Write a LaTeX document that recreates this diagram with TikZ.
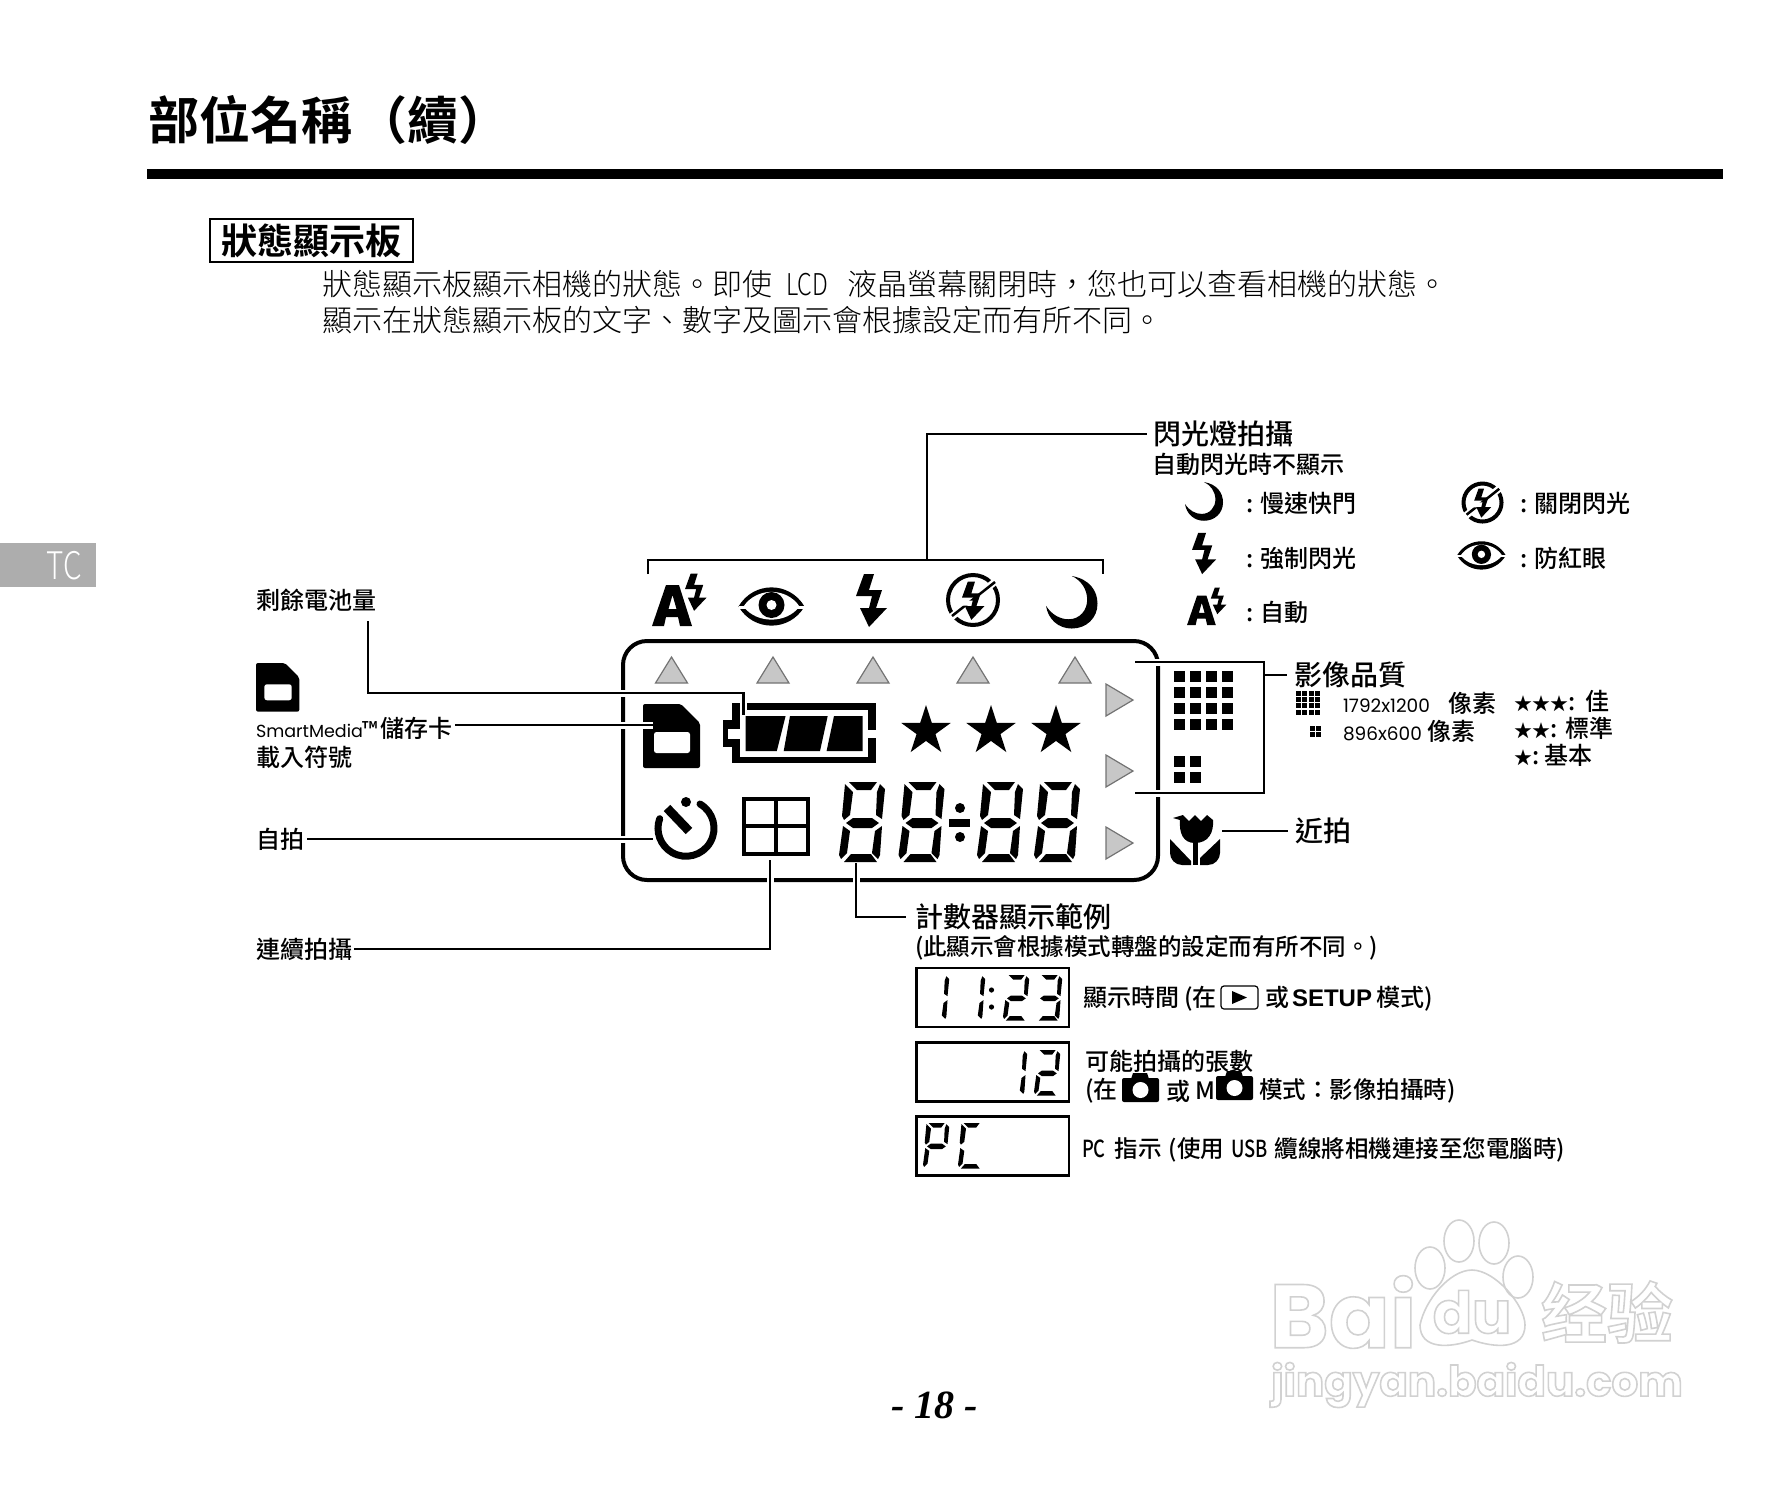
\documentclass[tikz,border=0pt]{standalone}
\usepackage{fontspec}
\usepackage{graphicx}
\usetikzlibrary{arrows.meta,positioning,calc,shapes.geometric}
\setmainfont{Noto Sans CJK TC Medium}[BoldFont={Noto Sans CJK TC Bold}]
\newfontfamily\lightcjk{Noto Sans CJK TC Light}
\newfontfamily\simpcjk{Noto Sans CJK SC Bold}
\newfontfamily\roundlat{Poppins}
\newfontfamily\boldlat{Liberation Sans Bold}
\newfontfamily\pagenum{Liberation Serif Bold Italic}
\newfontfamily\wmfont{Poppins Bold}
\newcommand{\fs}[1]{\fontsize{#1}{#1}\selectfont}
\newcommand{\nar}[1]{\scalebox{.78}[1]{#1}}
\newcommand{\ghost}[1]{\special{pdf: code q 1 Tr 0.82 G 1.6 w}#1\special{pdf: code Q}}
\newcommand{\lcddigit}[4]{%
	\foreach \sg in {#4} {\pic[scale=#3] at (#1,#2) {seg\sg};}}

\tikzset{
	sega/.pic={\fill (10,0)--(38,0)--(32,8)--(18,8)--cycle;},
	segb/.pic={\fill (41,2)--(46,7)--(43,37)--(37,33)--(38,10)--cycle;},
	segc/.pic={\fill (43,44)--(41,73)--(39,77)--(33,71)--(36,49)--cycle;},
	segd/.pic={\fill (5,80)--(12,72)--(32,72)--(38,80)--cycle;},
	sege/.pic={\fill (4,44)--(11,49)--(8,71)--(2,77)--(0,73)--cycle;},
	segf/.pic={\fill (6,2)--(14,10)--(11,33)--(5,38)--(3,34)--cycle;},
	segg/.pic={\fill (7,41)--(14,36)--(33,36)--(40,41)--(33,46)--(14,46)--cycle;},
	boltmark/.pic={\fill (8,1)--(18,1)--(13,17)--(26,17)--(20,35)--(31,35)--(13,54)--(4,35)--(13,35)--(16,23)--(0,23)--cycle;},
	moonmark/.pic={\fill (25,0) .. controls (42,3) and (50,14) .. (50,27) .. controls (50,41) and (39,51) .. (25,51)
		.. controls (12,51) and (2,42) .. (0,29) .. controls (6,38) and (14,42) .. (22,42)
		.. controls (33,42) and (40,33) .. (40,23) .. controls (40,13) and (34,4) .. (25,0) -- cycle;},
	autoflash/.pic={
		\fill[even odd rule] (0,53)--(14,12)--(27,12)--(40,53)--(28,53)--(26,44)--(14,44)--(12,53)--cycle
			(20.5,22)--(16.5,36)--(24.5,36)--cycle;
		\pic[transform shape,scale=.7] at (33,0) {boltmark};
	},
	eyemark/.pic={
		\fill (0,19.5) .. controls (15,-6) and (51,-6) .. (66,19.5) .. controls (51,45) and (15,45) .. (0,19.5) -- cycle;
		\fill[white] (5,19.5) .. controls (18,0) and (48,0) .. (61,19.5) .. controls (48,37) and (18,37) .. (5,19.5) -- cycle;
		\fill (33,18) circle (13);
		\fill[white] (33,18) circle (5);
		\fill[white] (0,19) rectangle (8,22);
		\fill[white] (58,19) rectangle (66,22);
	},
	noflash/.pic={
		\draw[line width=4pt] (27,27) circle (25);
		\draw[white,line width=7pt] (3,46) -- (51,7);
		\draw[line width=2.5pt] (6,43) -- (49,9);
		\draw[white,line width=5pt] (22,10) -- (18,30) -- (27,30) -- (27,44);
		\pic[transform shape,scale=.72] at (16,8) {boltmark};
	},
	cardmark/.pic={
		\fill[rounded corners=2pt] (0,0) -- (38,0) -- (57,19) -- (57,64) -- (0,64) -- cycle;
		\fill[white,rounded corners=2.5pt] (11,28) rectangle (47,49);
	},
	tulipmark/.pic={
		\fill (3,3) -- (13,0) -- (19,6) -- (25,0) -- (31,6) -- (37,0) -- (43,5)
			.. controls (44,18) and (38,28) .. (25,28) .. controls (13,28) and (9,18) .. (10,5) -- cycle;
		\fill (23,25) rectangle (28,50);
		\fill (0,24) -- (21,46) -- (21,50) -- (12,50) .. controls (5,50) and (0,44) .. (0,38) -- cycle;
		\fill (50,24) -- (30,43) -- (30,50) -- (38,50) .. controls (45,50) and (50,44) .. (50,38) -- cycle;
	},
	cammark/.pic={
		\fill (9,6) -- (11,0) -- (25,0) -- (27,6) -- cycle;
		\fill[rounded corners=2pt] (0,5) rectangle (37,29);
		\fill[white] (18.5,17) circle (8);
	},
}

\begin{document}
\begin{tikzpicture}[
		x=1pt,y=-1pt,
		txt/.style={anchor=west, inner sep=0pt, outer sep=0pt, align=left},
		lbl/.style={txt, font=\fs{24}},
		big/.style={txt, font=\fs{28}},
		line/.style={draw, line width=2.4pt},
		halo/.style={line, preaction={draw=white, line width=7pt}},
		lcdbox/.style={draw, line width=2.4pt, minimum width=152.5pt, minimum height=59pt, inner sep=0pt},
		trimark/.style={fill=black!22, draw=black!55, line width=1.2pt},
		starmark/.style={star, star points=5, star point ratio=2.618, fill, minimum size=52pt, inner sep=0pt, outer sep=0pt},
		wm/.style={inner sep=0pt, anchor=center}
		]
		\useasboundingbox (0,0) rectangle (1792,1484);
		
		% -------------------------
		% Heading
		% -------------------------
		\node[txt, font=\fs{51}\bfseries] (Title) at (148,120) {部位名稱\hspace{5pt}（續）};
		\fill (147,169) rectangle (1723,179);
		\node[txt, draw, line width=1.6pt, font=\fs{36}\bfseries, minimum width=203pt, minimum height=43pt, align=center] (Sub) at (210,240.5) {狀態顯示板};
		\node[txt, font=\fs{30}\lightcjk] (Body1) at (322,284) {狀態顯示板顯示相機的狀態。即使\hspace{14pt}\nar{LCD}\hspace{19pt}液晶螢幕關閉時，您也可以查看相機的狀態。};
		\node[txt, font=\fs{30}\lightcjk] (Body2) at (322,320) {顯示在狀態顯示板的文字、數字及圖示會根據設定而有所不同。};
		\fill[black!32] (0,543) rectangle (96,587);
		\node[font=\fs{38}\lightcjk, text=white, inner sep=0pt] (Tab) at (64,566) {\nar{TC}};
		
		% -------------------------
		% Display panel
		% -------------------------
		\draw[line width=4pt, rounded corners=24pt] (623,641) rectangle (1158,880);
		\foreach \tx in {671.5,773,873,973,1075} {
			\draw[trimark] (\tx-16,683) -- (\tx,657) -- (\tx+16,683) -- cycle;
		}
		\foreach \ty in {684,755,827} {
			\draw[trimark] (1106,\ty) -- (1133,\ty+16) -- (1106,\ty+32) -- cycle;
		}
		\pic at (643,704) {cardmark};
		
		% battery
		\fill (732,703) rectangle (875.5,763);
		\fill (722.5,720) rectangle (734,747);
		\fill[white] (740,710) rectangle (868,757);
		\fill[white] (728,729) rectangle (741,739);
		\fill[white] (867,730) rectangle (876,738);
		\fill (745.5,716) -- (785.6,716) -- (776.8,751) -- (745.5,751) -- cycle;
		\fill (790,716) -- (827.7,716) -- (820,751) -- (783.7,751) -- cycle;
		\fill (834,716) -- (862.5,716) -- (862.5,751) -- (826.6,751) -- cycle;
		
		\node[starmark] (Star1) at (926,731) {};
		\node[starmark] (Star2) at (991,731) {};
		\node[starmark] (Star3) at (1056,731) {};
		
		% self timer
		\draw[line width=7pt, line cap=round] (700,804) arc[start angle=-60, end angle=200, radius=28];
		\fill (686,802) circle (5);
		\draw[line width=9pt] (667,808) -- (689,831);
		
		% sequence frame
		\draw[line width=4pt] (744,799) rectangle (808,854);
		\draw[line width=4pt] (776,799) -- (776,854);
		\draw[line width=4pt] (744,826) -- (808,826);
		
		% counter
		\lcddigit{839}{782}{1}{a,b,c,d,e,f,g}
		\lcddigit{898.5}{782}{1}{a,b,c,d,e,f,g}
		\lcddigit{977}{782}{1}{a,b,c,d,e,f,g}
		\lcddigit{1034}{782}{1}{a,b,c,d,e,f,g}
		\fill (960,808) circle (5);
		\fill (960,837) circle (5);
		\fill (949,819) rectangle (970,827);
		
		% quality marks
		\foreach \gx in {1174,1190,1206,1222} {
			\foreach \gy in {671,687,703,719} {
				\fill (\gx,\gy) rectangle ++(11,11);
			}
		}
		\foreach \gx in {1174,1190} {
			\foreach \gy in {756,772} {
				\fill (\gx,\gy) rectangle ++(11,11);
			}
		}
		\pic at (1170,815) {tulipmark};
		
		% mode marks above the panel
		\pic at (652,573) {autoflash};
		\pic at (738.5,587) {eyemark};
		\pic at (856,573) {boltmark};
		\pic at (946,573) {noflash};
		\pic[scale=1.03] at (1046,576) {moonmark};
		
		% -------------------------
		% Left labels
		% -------------------------
		\node[lbl] (Bat) at (256,600) {剩餘電池量};
		\pic[scale=.76] at (256,663) {cardmark};
		\node[lbl] (Card) at (256,728) {{\roundlat\fs{17.5}SmartMedia}{\fs{21}™}\hspace{2pt}儲存卡};
		\node[lbl] (Card2) at (256,757) {載入符號};
		\node[lbl] (Timer) at (256,839) {自拍};
		\node[lbl] (Seq) at (256,949) {連續拍攝};
		
		% -------------------------
		% Flash labels
		% -------------------------
		\node[big] (Flash) at (1153,434) {閃光燈拍攝};
		\node[lbl] (Flash2) at (1152,464) {自動閃光時不顯示};
		\pic[scale=.76] at (1185,482) {moonmark};
		\pic[scale=.78] at (1192,532) {boltmark};
		\pic[scale=.72] at (1187,587) {autoflash};
		\pic[scale=.76] at (1462,482) {noflash};
		\pic[scale=.74] at (1457,541) {eyemark};
		\node[lbl] (Slow) at (1246,503) {:\hspace{7pt}慢速快門};
		\node[lbl] (Force) at (1246,558) {:\hspace{7pt}強制閃光};
		\node[lbl] (Auto) at (1246,612) {:\hspace{7pt}自動};
		\node[lbl] (Off) at (1520,503) {:\hspace{7pt}關閉閃光};
		\node[lbl] (Red) at (1520,558) {:\hspace{7pt}防紅眼};
		
		% -------------------------
		% Quality labels
		% -------------------------
		\node[big] (Qual) at (1294,675) {影像品質};
		\foreach \gx in {0,1,2,3} {
			\foreach \gy in {0,1,2,3} {
				\fill (1296+\gx*6.4,691+\gy*6.2) rectangle ++(5,5);
			}
		}
		\foreach \gx in {0,1} {
			\foreach \gy in {0,1} {
				\fill (1310+\gx*6.4,726+\gy*6.2) rectangle ++(5,5);
			}
		}
		\node[lbl] (Hi) at (1343,703) {{\roundlat\fs{18.5}1792x1200}\hspace{19pt}像素};
		\node[lbl] (Lo) at (1343,731) {{\roundlat\fs{18.5}896x600}\hspace{6pt}像素};
		\node[lbl] (Good) at (1514,701) {{\fs{18}★★★}:\hspace{10pt}佳};
		\node[lbl] (Norm) at (1514,728) {{\fs{18}★★}:\hspace{8pt}標準};
		\node[lbl] (Basic) at (1514,755) {{\fs{18}★}:\hspace{5pt}基本};
		\node[big] (Macro) at (1295,831) {近拍};
		
		% -------------------------
		% Counter labels
		% -------------------------
		\node[big] (Count) at (915,917) {計數器顯示範例};
		\node[lbl, font=\fs{23.5}] (Count2) at (915,948) {(此顯示會根據模式轉盤的設定而有所不同。)};
		
		\node[lcdbox, txt] (Box1) at (916.5,997.5) {};
		\node[lcdbox, txt] (Box2) at (916.5,1072) {};
		\node[lcdbox, txt] (Box3) at (916.5,1146) {};
		
		\lcddigit{923}{975}{.57}{b,c}
		\lcddigit{959}{975}{.57}{b,c}
		\fill (991.5,990) circle (2.6);
		\fill (991.5,1007) circle (2.6);
		\lcddigit{1003}{975}{.57}{a,b,g,e,d}
		\lcddigit{1036}{975}{.57}{a,b,g,c,d}
		\lcddigit{1001}{1050}{.57}{b,c}
		\lcddigit{1034}{1050}{.57}{a,b,g,e,d}
		\lcddigit{923}{1123}{.57}{a,b,f,g,e}
		\lcddigit{958}{1123}{.57}{a,f,e,d}
		
		\node[lbl] (Time) at (1083,999) {顯示時間 (在};
		\draw[line width=1.2pt, rounded corners=3pt] (1221,986) rectangle (1258,1009);
		\fill (1232,991) -- (1247,997.5) -- (1232,1004) -- cycle;
		\node[lbl] (Time2) at (1265,999) {或\hspace{3pt}{\boldlat SETUP}\hspace{4pt}模式)};
		\node[lbl] (Shots) at (1085,1061) {可能拍攝的張數};
		\node[lbl] (Shots2) at (1085,1091) {(在};
		\pic at (1122,1073) {cammark};
		\node[lbl] (Shots3) at (1166,1091) {或};
		\node[lbl] (Shots4) at (1195,1091) {M};
		\pic at (1216,1071) {cammark};
		\node[lbl, font=\fs{23.5}] (Shots5) at (1259,1091) {模式：影像拍攝時)};
		\node[lbl, font=\fs{23.5}] (Pc) at (1082,1150) {\nar{PC}\hspace{9pt}指示\hspace{7pt}(使用\hspace{7pt}\nar{USB}\hspace{7pt}纜線將相機連接至您電腦時)};
		
		\node[txt, font=\fs{40}\pagenum] (Page) at (891,1405) {- 18 -};
		
		% -------------------------
		% Connectors
		% -------------------------
		\coordinate (FlashL) at (648,574);
		\coordinate (FlashR) at (1103,574);
		\coordinate (FlashTop) at (927,560);
		\draw[line] (FlashL) |- (FlashR |- FlashTop) -- (FlashR);
		\draw[line, shorten >=6pt] (FlashTop) |- (Flash.west);
		
		\coordinate (BatTop) at (368,621);
		\coordinate (BatBend) at (743.5,693);
		\coordinate (BatEnd) at (743.5,715);
		\draw[halo] (BatTop) |- (BatBend) -- (BatEnd);
		
		\coordinate (CardEnd) at (653,725);
		\draw[halo, shorten <=3pt] (Card.east |- CardEnd) -- (CardEnd);
		\coordinate (TimerEnd) at (653,839);
		\draw[halo, shorten <=3pt] (Timer.east) -- (TimerEnd);
		
		\coordinate (SeqEnd) at (770,860);
		\draw[halo, shorten <=2pt] (Seq.east) -| (SeqEnd);
		\coordinate (CountEnd) at (856,863);
		\draw[halo, shorten >=9pt] (CountEnd) |- (Count.west);
		
		\coordinate (QualA) at (1135,662);
		\coordinate (QualB) at (1135,793);
		\coordinate (QualC) at (1264,662);
		\coordinate (QualD) at (1264,793);
		\draw[halo] (QualA) -- (QualC) -- (QualD) -- (QualB);
		\draw[line, shorten >=7pt] (QualC |- Qual.west) -- (Qual.west);
		\coordinate (MacroEnd) at (1222,831);
		\draw[line, shorten >=7pt] (MacroEnd) -- (Macro.west);
		
		% -------------------------
		% Watermark
		% -------------------------
		\begin{scope}[draw=black!18, line width=1.6pt]
			\draw (1430,1268) ellipse (15 and 21);
			\draw (1459,1241) ellipse (15 and 21);
			\draw (1494,1243) ellipse (15 and 21);
			\draw (1518,1277) ellipse (15 and 21);
			\draw (1420,1325) .. controls (1425,1300) and (1450,1270) .. (1472,1270)
				.. controls (1495,1270) and (1525,1305) .. (1525,1325)
				.. controls (1525,1350) and (1495,1348) .. (1472,1340)
				.. controls (1450,1348) and (1420,1350) .. (1420,1325) -- cycle;
		\end{scope}
		\node[wm, font=\fs{90}\wmfont] (WmBai) at (1343,1312) {\ghost{Bai}};
		\node[wm, font=\fs{58}\wmfont] (WmDu) at (1472,1312) {\ghost{du}};
		\node[wm, font=\fs{66}\simpcjk] (WmJy) at (1607,1312) {\ghost{经验}};
		\node[wm, font=\fs{42}\wmfont] (WmUrl) at (1477,1385) {\ghost{jingyan.baidu.com}};
		
	\end{tikzpicture}
\end{document}
